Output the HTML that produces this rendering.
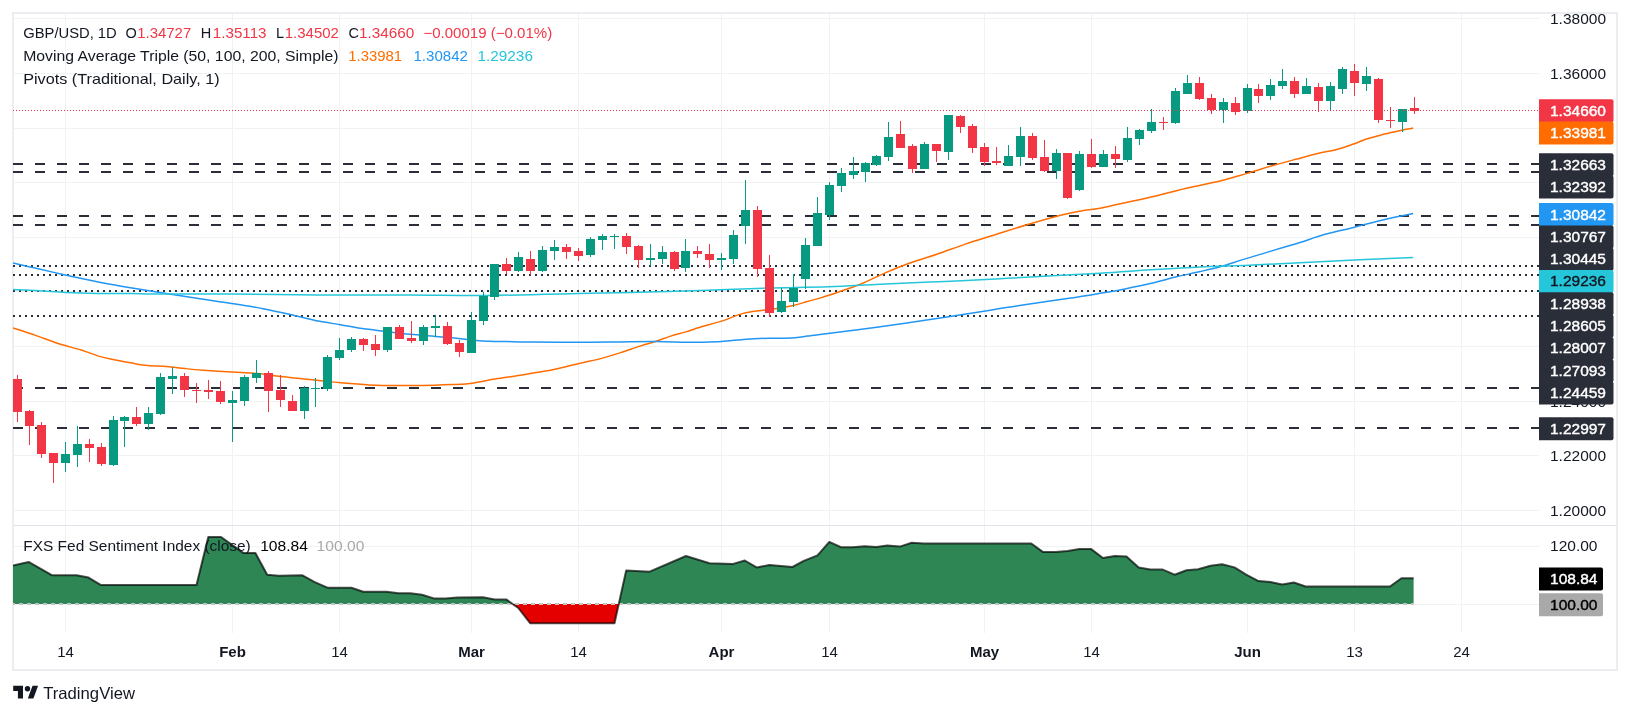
<!DOCTYPE html>
<html><head><meta charset="utf-8"><style>
html,body{margin:0;padding:0;background:#fff;}
body{width:1630px;height:716px;overflow:hidden;position:relative;font-family:"Liberation Sans", sans-serif;}
svg{position:absolute;left:0;top:0;will-change:transform;}
</style></head><body>
<svg width="1630" height="716" viewBox="0 0 1630 716" font-family='"Liberation Sans", sans-serif'>
<defs>
<clipPath id="mainclip"><rect x="13" y="14" width="1526" height="511"/></clipPath>
<clipPath id="indclip"><rect x="13" y="526" width="1526" height="107"/></clipPath>
</defs>
<rect x="0" y="0" width="1630" height="716" fill="#FFFFFF"/>
<!-- frame -->
<g shape-rendering="crispEdges">
<rect x="12" y="12" width="1606" height="2" fill="#EBEDF1"/>
<rect x="12" y="669" width="1606" height="2" fill="#EBEDF1"/>
<rect x="12" y="12" width="2" height="659" fill="#EBEDF1"/>
<rect x="1616" y="12" width="2" height="659" fill="#EBEDF1"/>
<rect x="14" y="525" width="1602" height="1" fill="#E0E3EB"/>
</g>
<g clip-path="url(#mainclip)">
<g shape-rendering="crispEdges">
<rect x="14" y="18" width="1525" height="1" fill="#F0F3F2"/>
<rect x="14" y="73" width="1525" height="1" fill="#F0F3F2"/>
<rect x="14" y="128" width="1525" height="1" fill="#F0F3F2"/>
<rect x="14" y="182" width="1525" height="1" fill="#F0F3F2"/>
<rect x="14" y="237" width="1525" height="1" fill="#F0F3F2"/>
<rect x="14" y="291" width="1525" height="1" fill="#F0F3F2"/>
<rect x="14" y="346" width="1525" height="1" fill="#F0F3F2"/>
<rect x="14" y="401" width="1525" height="1" fill="#F0F3F2"/>
<rect x="14" y="455" width="1525" height="1" fill="#F0F3F2"/>
<rect x="14" y="510" width="1525" height="1" fill="#F0F3F2"/>
<rect x="65" y="14" width="1" height="511" fill="#F0F3F2"/>
<rect x="232" y="14" width="1" height="511" fill="#F0F3F2"/>
<rect x="339" y="14" width="1" height="511" fill="#F0F3F2"/>
<rect x="471" y="14" width="1" height="511" fill="#F0F3F2"/>
<rect x="578" y="14" width="1" height="511" fill="#F0F3F2"/>
<rect x="721" y="14" width="1" height="511" fill="#F0F3F2"/>
<rect x="829" y="14" width="1" height="511" fill="#F0F3F2"/>
<rect x="984" y="14" width="1" height="511" fill="#F0F3F2"/>
<rect x="1091" y="14" width="1" height="511" fill="#F0F3F2"/>
<rect x="1247" y="14" width="1" height="511" fill="#F0F3F2"/>
<rect x="1354" y="14" width="1" height="511" fill="#F0F3F2"/>
<rect x="1461" y="14" width="1" height="511" fill="#F0F3F2"/>
</g>
<g shape-rendering="crispEdges">
<line x1="13" y1="164" x2="1539" y2="164" stroke="#2A2E39" stroke-width="2" stroke-dasharray="10 12"/>
<line x1="13" y1="172" x2="1539" y2="172" stroke="#2A2E39" stroke-width="2" stroke-dasharray="10 12"/>
<line x1="13" y1="216" x2="1539" y2="216" stroke="#2A2E39" stroke-width="2" stroke-dasharray="10 12"/>
<line x1="13" y1="225" x2="1539" y2="225" stroke="#2A2E39" stroke-width="2" stroke-dasharray="10 12"/>
<line x1="13" y1="388" x2="1539" y2="388" stroke="#2A2E39" stroke-width="2" stroke-dasharray="10 12"/>
<line x1="13" y1="428" x2="1539" y2="428" stroke="#2A2E39" stroke-width="2" stroke-dasharray="10 12"/>
<line x1="13" y1="266" x2="1539" y2="266" stroke="#2A2E39" stroke-width="2" stroke-dasharray="2 4"/>
<line x1="13" y1="275" x2="1539" y2="275" stroke="#2A2E39" stroke-width="2" stroke-dasharray="2 4"/>
<line x1="13" y1="291" x2="1539" y2="291" stroke="#2A2E39" stroke-width="2" stroke-dasharray="2 4"/>
<line x1="13" y1="316" x2="1539" y2="316" stroke="#2A2E39" stroke-width="2" stroke-dasharray="2 4"/>
</g>
<path d="M13.00,327.90 C16.67,329.10 27.48,332.50 35.00,335.10 C42.52,337.70 50.42,341.02 58.10,343.50 C65.78,345.98 74.07,347.82 81.10,350.00 C88.13,352.18 94.53,354.93 100.30,356.60 C106.07,358.27 110.42,358.92 115.70,360.00 C120.98,361.08 126.67,362.18 132.00,363.10 C137.33,364.02 141.90,364.95 147.70,365.50 C153.50,366.05 160.55,365.88 166.80,366.40 C173.05,366.92 179.07,367.95 185.20,368.60 C191.33,369.25 195.73,369.72 203.60,370.30 C211.47,370.88 224.67,371.65 232.40,372.10 C240.13,372.55 245.22,372.72 250.00,373.00 C254.78,373.28 255.92,373.20 261.10,373.80 C266.28,374.40 273.93,375.75 281.10,376.60 C288.27,377.45 296.42,378.08 304.10,378.90 C311.78,379.72 321.07,380.85 327.20,381.50 C333.33,382.15 333.97,382.23 340.90,382.80 C347.83,383.37 361.45,384.47 368.80,384.90 C376.15,385.33 376.15,385.30 385.00,385.40 C393.85,385.50 410.12,385.67 421.90,385.50 C433.68,385.33 447.68,384.72 455.70,384.40 C463.72,384.08 463.43,384.50 470.00,383.60 C476.57,382.70 486.72,380.38 495.10,379.00 C503.48,377.62 511.92,376.62 520.30,375.30 C528.68,373.98 537.02,372.72 545.40,371.10 C553.78,369.48 563.17,367.27 570.60,365.60 C578.03,363.93 584.85,362.30 590.00,361.10 C595.15,359.90 596.38,359.82 601.50,358.40 C606.62,356.98 614.30,354.65 620.70,352.60 C627.10,350.55 634.13,347.95 639.90,346.10 C645.67,344.25 650.18,343.17 655.30,341.50 C660.42,339.83 665.48,337.70 670.60,336.10 C675.72,334.50 681.10,333.38 686.00,331.90 C690.90,330.42 694.08,329.00 700.00,327.20 C705.92,325.40 714.33,323.40 721.50,321.10 C728.67,318.80 736.35,315.18 743.00,313.40 C749.65,311.62 755.77,311.23 761.40,310.40 C767.03,309.57 771.67,309.18 776.80,308.40 C781.93,307.62 787.08,306.85 792.20,305.70 C797.32,304.55 802.87,302.77 807.50,301.50 C812.13,300.23 816.18,299.22 820.00,298.10 C823.82,296.98 826.87,295.98 830.40,294.80 C833.93,293.62 837.30,292.35 841.20,291.00 C845.10,289.65 850.30,287.95 853.80,286.70 C857.30,285.45 858.70,285.02 862.20,283.50 C865.70,281.98 870.17,279.70 874.80,277.60 C879.43,275.50 884.82,273.08 890.00,270.90 C895.18,268.72 898.10,267.28 905.90,264.50 C913.70,261.72 926.78,257.63 936.80,254.20 C946.82,250.77 956.83,246.97 966.00,243.90 C975.17,240.83 981.77,238.95 991.80,235.80 C1001.83,232.65 1014.75,228.43 1026.20,225.00 C1037.65,221.57 1051.35,217.55 1060.50,215.20 C1069.65,212.85 1074.52,212.07 1081.10,210.90 C1087.68,209.73 1091.93,209.72 1100.00,208.20 C1108.07,206.68 1119.68,203.97 1129.50,201.80 C1139.32,199.63 1149.08,197.53 1158.90,195.20 C1168.72,192.87 1178.22,190.15 1188.40,187.80 C1198.58,185.45 1210.25,183.50 1220.00,181.10 C1229.75,178.70 1237.93,176.03 1246.90,173.40 C1255.87,170.77 1265.48,167.70 1273.80,165.30 C1282.12,162.90 1289.13,161.05 1296.80,159.00 C1304.47,156.95 1313.43,154.50 1319.80,153.00 C1326.17,151.50 1329.25,151.55 1335.00,150.00 C1340.75,148.45 1349.08,145.53 1354.30,143.70 C1359.52,141.87 1362.13,140.38 1366.30,139.00 C1370.47,137.62 1374.97,136.52 1379.30,135.40 C1383.63,134.28 1388.38,133.22 1392.30,132.30 C1396.22,131.38 1399.32,130.60 1402.80,129.90 C1406.28,129.20 1411.47,128.40 1413.20,128.10" fill="none" stroke="#FF6D00" stroke-width="1.5"/>
<path d="M13.00,263.10 C16.67,263.93 26.85,266.25 35.00,268.10 C43.15,269.95 52.93,272.22 61.90,274.20 C70.87,276.18 80.48,278.27 88.80,280.00 C97.12,281.73 104.60,283.27 111.80,284.60 C119.00,285.93 124.53,286.78 132.00,288.00 C139.47,289.22 145.52,290.13 156.60,291.90 C167.68,293.67 186.27,296.72 198.50,298.60 C210.73,300.48 219.23,301.52 230.00,303.20 C240.77,304.88 252.05,306.58 263.10,308.70 C274.15,310.82 287.10,313.83 296.30,315.90 C305.50,317.97 310.95,319.63 318.30,321.10 C325.65,322.57 333.03,323.45 340.40,324.70 C347.77,325.95 355.13,327.50 362.50,328.60 C369.87,329.70 376.68,330.35 384.60,331.30 C392.52,332.25 400.48,333.37 410.00,334.30 C419.52,335.23 431.38,335.97 441.70,336.90 C452.02,337.83 465.15,339.23 471.90,339.90 C478.65,340.57 476.30,340.62 482.20,340.90 C488.10,341.18 499.43,341.40 507.30,341.60 C515.17,341.80 515.62,342.00 529.40,342.10 C543.18,342.20 574.98,342.23 590.00,342.20 C605.02,342.17 608.45,342.00 619.50,341.90 C630.55,341.80 645.27,341.53 656.30,341.60 C667.33,341.67 678.42,342.20 685.70,342.30 C692.98,342.40 694.03,342.33 700.00,342.20 C705.97,342.07 713.82,342.00 721.50,341.50 C729.18,341.00 738.17,339.75 746.10,339.20 C754.03,338.65 761.42,338.40 769.10,338.20 C776.78,338.00 785.80,338.35 792.20,338.00 C798.60,337.65 802.87,336.70 807.50,336.10 C812.13,335.50 808.47,335.88 820.00,334.40 C831.53,332.92 857.23,329.83 876.70,327.20 C896.17,324.57 917.62,321.48 936.80,318.60 C955.98,315.72 976.90,312.27 991.80,309.90 C1006.70,307.53 1013.32,306.33 1026.20,304.40 C1039.08,302.47 1056.80,300.15 1069.10,298.30 C1081.40,296.45 1090.67,294.87 1100.00,293.30 C1109.33,291.73 1116.72,290.52 1125.10,288.90 C1133.48,287.28 1141.92,285.58 1150.30,283.60 C1158.68,281.62 1167.12,279.00 1175.40,277.00 C1183.68,275.00 1192.42,273.35 1200.00,271.60 C1207.58,269.85 1213.92,268.45 1220.90,266.50 C1227.88,264.55 1234.92,262.05 1241.90,259.90 C1248.88,257.75 1255.82,255.70 1262.80,253.60 C1269.78,251.50 1277.60,249.15 1283.80,247.30 C1290.00,245.45 1293.12,244.67 1300.00,242.50 C1306.88,240.33 1316.02,236.85 1325.10,234.30 C1334.18,231.75 1344.72,229.63 1354.50,227.20 C1364.28,224.77 1374.02,221.97 1383.80,219.70 C1393.58,217.43 1408.30,214.62 1413.20,213.60" fill="none" stroke="#2196F3" stroke-width="1.5"/>
<path d="M13.00,289.60 C17.32,289.78 30.10,290.23 38.90,290.70 C47.70,291.17 56.20,291.95 65.80,292.40 C75.40,292.85 85.47,293.20 96.50,293.40 C107.53,293.60 121.98,293.50 132.00,293.60 C142.02,293.70 140.27,293.93 156.60,294.00 C172.93,294.07 203.05,293.85 230.00,294.00 C256.95,294.15 288.30,294.75 318.30,294.90 C348.30,295.05 381.38,294.82 410.00,294.90 C438.62,294.98 460.00,295.67 490.00,295.40 C520.00,295.13 563.52,293.85 590.00,293.30 C616.48,292.75 629.27,292.60 648.90,292.10 C668.53,291.60 688.17,290.97 707.80,290.30 C727.43,289.63 746.55,288.68 766.70,288.10 C786.85,287.52 809.82,287.45 828.70,286.80 C847.58,286.15 861.67,285.05 880.00,284.20 C898.33,283.35 918.70,282.60 938.70,281.70 C958.70,280.80 985.42,279.55 1000.00,278.80 C1014.58,278.05 1009.53,278.13 1026.20,277.20 C1042.87,276.27 1079.32,274.43 1100.00,273.20 C1120.68,271.97 1133.63,270.85 1150.30,269.80 C1166.97,268.75 1183.57,267.67 1200.00,266.90 C1216.43,266.13 1232.23,265.88 1248.90,265.20 C1265.57,264.52 1282.40,263.68 1300.00,262.80 C1317.60,261.92 1335.63,260.77 1354.50,259.90 C1373.37,259.03 1403.42,257.98 1413.20,257.60" fill="none" stroke="#26C6DA" stroke-width="1.5"/>
<g shape-rendering="crispEdges">
<rect x="17" y="375" width="1" height="47" fill="#F23645"/>
<rect x="13" y="379" width="9" height="33" fill="#F23645"/>
<rect x="29" y="410" width="1" height="35" fill="#F23645"/>
<rect x="25" y="411" width="9" height="15" fill="#F23645"/>
<rect x="41" y="422" width="1" height="36" fill="#F23645"/>
<rect x="37" y="425" width="9" height="29" fill="#F23645"/>
<rect x="53" y="453" width="1" height="30" fill="#F23645"/>
<rect x="49" y="453" width="9" height="10" fill="#F23645"/>
<rect x="65" y="442" width="1" height="30" fill="#089981"/>
<rect x="61" y="454" width="9" height="9" fill="#089981"/>
<rect x="77" y="426" width="1" height="41" fill="#089981"/>
<rect x="73" y="444" width="9" height="11" fill="#089981"/>
<rect x="89" y="439" width="1" height="23" fill="#F23645"/>
<rect x="85" y="444" width="9" height="4" fill="#F23645"/>
<rect x="101" y="443" width="1" height="23" fill="#F23645"/>
<rect x="97" y="447" width="9" height="17" fill="#F23645"/>
<rect x="113" y="416" width="1" height="50" fill="#089981"/>
<rect x="109" y="420" width="9" height="45" fill="#089981"/>
<rect x="124" y="416" width="1" height="31" fill="#089981"/>
<rect x="120" y="417" width="9" height="4" fill="#089981"/>
<rect x="136" y="407" width="1" height="19" fill="#F23645"/>
<rect x="132" y="417" width="9" height="7" fill="#F23645"/>
<rect x="148" y="407" width="1" height="23" fill="#089981"/>
<rect x="144" y="413" width="9" height="11" fill="#089981"/>
<rect x="160" y="373" width="1" height="42" fill="#089981"/>
<rect x="156" y="377" width="9" height="37" fill="#089981"/>
<rect x="172" y="367" width="1" height="27" fill="#089981"/>
<rect x="168" y="376" width="9" height="3" fill="#089981"/>
<rect x="184" y="373" width="1" height="24" fill="#F23645"/>
<rect x="180" y="376" width="9" height="14" fill="#F23645"/>
<rect x="196" y="383" width="1" height="20" fill="#F23645"/>
<rect x="192" y="390" width="9" height="1" fill="#F23645"/>
<rect x="208" y="380" width="1" height="19" fill="#F23645"/>
<rect x="204" y="390" width="9" height="2" fill="#F23645"/>
<rect x="220" y="381" width="1" height="23" fill="#F23645"/>
<rect x="216" y="391" width="9" height="11" fill="#F23645"/>
<rect x="232" y="391" width="1" height="51" fill="#089981"/>
<rect x="228" y="400" width="9" height="3" fill="#089981"/>
<rect x="244" y="375" width="1" height="31" fill="#089981"/>
<rect x="240" y="377" width="9" height="24" fill="#089981"/>
<rect x="256" y="360" width="1" height="23" fill="#089981"/>
<rect x="252" y="373" width="9" height="5" fill="#089981"/>
<rect x="268" y="371" width="1" height="41" fill="#F23645"/>
<rect x="264" y="373" width="9" height="18" fill="#F23645"/>
<rect x="280" y="375" width="1" height="32" fill="#F23645"/>
<rect x="276" y="390" width="9" height="10" fill="#F23645"/>
<rect x="292" y="395" width="1" height="16" fill="#F23645"/>
<rect x="288" y="401" width="9" height="10" fill="#F23645"/>
<rect x="304" y="386" width="1" height="33" fill="#089981"/>
<rect x="300" y="388" width="9" height="23" fill="#089981"/>
<rect x="315" y="378" width="1" height="29" fill="#089981"/>
<rect x="311" y="388" width="9" height="1" fill="#089981"/>
<rect x="327" y="355" width="1" height="36" fill="#089981"/>
<rect x="323" y="357" width="9" height="32" fill="#089981"/>
<rect x="339" y="338" width="1" height="22" fill="#089981"/>
<rect x="335" y="350" width="9" height="8" fill="#089981"/>
<rect x="351" y="337" width="1" height="15" fill="#089981"/>
<rect x="347" y="339" width="9" height="11" fill="#089981"/>
<rect x="363" y="338" width="1" height="13" fill="#F23645"/>
<rect x="359" y="339" width="9" height="6" fill="#F23645"/>
<rect x="375" y="335" width="1" height="21" fill="#F23645"/>
<rect x="371" y="344" width="9" height="6" fill="#F23645"/>
<rect x="387" y="327" width="1" height="25" fill="#089981"/>
<rect x="383" y="327" width="9" height="23" fill="#089981"/>
<rect x="399" y="325" width="1" height="14" fill="#F23645"/>
<rect x="395" y="327" width="9" height="12" fill="#F23645"/>
<rect x="411" y="321" width="1" height="22" fill="#F23645"/>
<rect x="407" y="338" width="9" height="3" fill="#F23645"/>
<rect x="423" y="325" width="1" height="20" fill="#089981"/>
<rect x="419" y="327" width="9" height="14" fill="#089981"/>
<rect x="435" y="315" width="1" height="22" fill="#089981"/>
<rect x="431" y="326" width="9" height="2" fill="#089981"/>
<rect x="447" y="322" width="1" height="23" fill="#F23645"/>
<rect x="443" y="326" width="9" height="18" fill="#F23645"/>
<rect x="459" y="340" width="1" height="17" fill="#F23645"/>
<rect x="455" y="343" width="9" height="9" fill="#F23645"/>
<rect x="471" y="312" width="1" height="41" fill="#089981"/>
<rect x="467" y="320" width="9" height="33" fill="#089981"/>
<rect x="483" y="292" width="1" height="33" fill="#089981"/>
<rect x="479" y="296" width="9" height="25" fill="#089981"/>
<rect x="494" y="264" width="1" height="36" fill="#089981"/>
<rect x="490" y="264" width="9" height="33" fill="#089981"/>
<rect x="506" y="258" width="1" height="16" fill="#F23645"/>
<rect x="502" y="264" width="9" height="7" fill="#F23645"/>
<rect x="518" y="252" width="1" height="20" fill="#089981"/>
<rect x="514" y="257" width="9" height="14" fill="#089981"/>
<rect x="530" y="251" width="1" height="24" fill="#F23645"/>
<rect x="526" y="259" width="9" height="12" fill="#F23645"/>
<rect x="542" y="246" width="1" height="26" fill="#089981"/>
<rect x="538" y="250" width="9" height="21" fill="#089981"/>
<rect x="554" y="240" width="1" height="20" fill="#089981"/>
<rect x="550" y="247" width="9" height="4" fill="#089981"/>
<rect x="566" y="244" width="1" height="15" fill="#F23645"/>
<rect x="562" y="247" width="9" height="5" fill="#F23645"/>
<rect x="578" y="248" width="1" height="13" fill="#F23645"/>
<rect x="574" y="251" width="9" height="5" fill="#F23645"/>
<rect x="590" y="237" width="1" height="20" fill="#089981"/>
<rect x="586" y="239" width="9" height="16" fill="#089981"/>
<rect x="602" y="234" width="1" height="16" fill="#089981"/>
<rect x="598" y="236" width="9" height="4" fill="#089981"/>
<rect x="614" y="234" width="1" height="15" fill="#089981"/>
<rect x="610" y="236" width="9" height="1" fill="#089981"/>
<rect x="626" y="233" width="1" height="21" fill="#F23645"/>
<rect x="622" y="236" width="9" height="11" fill="#F23645"/>
<rect x="638" y="245" width="1" height="23" fill="#F23645"/>
<rect x="634" y="246" width="9" height="14" fill="#F23645"/>
<rect x="650" y="244" width="1" height="22" fill="#089981"/>
<rect x="646" y="258" width="9" height="2" fill="#089981"/>
<rect x="662" y="246" width="1" height="18" fill="#089981"/>
<rect x="658" y="252" width="9" height="7" fill="#089981"/>
<rect x="674" y="251" width="1" height="20" fill="#F23645"/>
<rect x="670" y="252" width="9" height="17" fill="#F23645"/>
<rect x="685" y="239" width="1" height="33" fill="#089981"/>
<rect x="681" y="251" width="9" height="17" fill="#089981"/>
<rect x="697" y="246" width="1" height="12" fill="#F23645"/>
<rect x="693" y="251" width="9" height="3" fill="#F23645"/>
<rect x="709" y="244" width="1" height="24" fill="#F23645"/>
<rect x="705" y="254" width="9" height="6" fill="#F23645"/>
<rect x="721" y="253" width="1" height="17" fill="#089981"/>
<rect x="717" y="258" width="9" height="2" fill="#089981"/>
<rect x="733" y="230" width="1" height="34" fill="#089981"/>
<rect x="729" y="235" width="9" height="24" fill="#089981"/>
<rect x="745" y="180" width="1" height="64" fill="#089981"/>
<rect x="741" y="210" width="9" height="16" fill="#089981"/>
<rect x="757" y="206" width="1" height="71" fill="#F23645"/>
<rect x="753" y="210" width="9" height="59" fill="#F23645"/>
<rect x="769" y="255" width="1" height="62" fill="#F23645"/>
<rect x="765" y="268" width="9" height="45" fill="#F23645"/>
<rect x="781" y="288" width="1" height="25" fill="#089981"/>
<rect x="777" y="301" width="9" height="11" fill="#089981"/>
<rect x="793" y="274" width="1" height="33" fill="#089981"/>
<rect x="789" y="288" width="9" height="14" fill="#089981"/>
<rect x="805" y="238" width="1" height="51" fill="#089981"/>
<rect x="801" y="245" width="9" height="34" fill="#089981"/>
<rect x="817" y="197" width="1" height="49" fill="#089981"/>
<rect x="813" y="213" width="9" height="33" fill="#089981"/>
<rect x="829" y="182" width="1" height="38" fill="#089981"/>
<rect x="825" y="185" width="9" height="30" fill="#089981"/>
<rect x="841" y="168" width="1" height="24" fill="#089981"/>
<rect x="837" y="173" width="9" height="13" fill="#089981"/>
<rect x="853" y="157" width="1" height="22" fill="#089981"/>
<rect x="849" y="171" width="9" height="4" fill="#089981"/>
<rect x="865" y="162" width="1" height="20" fill="#089981"/>
<rect x="861" y="163" width="9" height="9" fill="#089981"/>
<rect x="876" y="155" width="1" height="11" fill="#089981"/>
<rect x="872" y="156" width="9" height="9" fill="#089981"/>
<rect x="888" y="122" width="1" height="39" fill="#089981"/>
<rect x="884" y="137" width="9" height="20" fill="#089981"/>
<rect x="900" y="121" width="1" height="27" fill="#F23645"/>
<rect x="896" y="134" width="9" height="14" fill="#F23645"/>
<rect x="912" y="144" width="1" height="29" fill="#F23645"/>
<rect x="908" y="146" width="9" height="23" fill="#F23645"/>
<rect x="924" y="142" width="1" height="27" fill="#089981"/>
<rect x="920" y="144" width="9" height="25" fill="#089981"/>
<rect x="936" y="144" width="1" height="18" fill="#F23645"/>
<rect x="932" y="144" width="9" height="7" fill="#F23645"/>
<rect x="948" y="115" width="1" height="45" fill="#089981"/>
<rect x="944" y="115" width="9" height="37" fill="#089981"/>
<rect x="960" y="115" width="1" height="18" fill="#F23645"/>
<rect x="956" y="116" width="9" height="11" fill="#F23645"/>
<rect x="972" y="124" width="1" height="29" fill="#F23645"/>
<rect x="968" y="126" width="9" height="22" fill="#F23645"/>
<rect x="984" y="143" width="1" height="23" fill="#F23645"/>
<rect x="980" y="147" width="9" height="15" fill="#F23645"/>
<rect x="996" y="147" width="1" height="18" fill="#F23645"/>
<rect x="992" y="161" width="9" height="2" fill="#F23645"/>
<rect x="1008" y="145" width="1" height="21" fill="#089981"/>
<rect x="1004" y="156" width="9" height="10" fill="#089981"/>
<rect x="1020" y="127" width="1" height="39" fill="#089981"/>
<rect x="1016" y="136" width="9" height="21" fill="#089981"/>
<rect x="1032" y="133" width="1" height="27" fill="#F23645"/>
<rect x="1028" y="136" width="9" height="22" fill="#F23645"/>
<rect x="1044" y="140" width="1" height="32" fill="#F23645"/>
<rect x="1040" y="157" width="9" height="14" fill="#F23645"/>
<rect x="1056" y="149" width="1" height="30" fill="#089981"/>
<rect x="1052" y="153" width="9" height="18" fill="#089981"/>
<rect x="1067" y="153" width="1" height="46" fill="#F23645"/>
<rect x="1063" y="153" width="9" height="45" fill="#F23645"/>
<rect x="1079" y="151" width="1" height="40" fill="#089981"/>
<rect x="1075" y="154" width="9" height="36" fill="#089981"/>
<rect x="1091" y="139" width="1" height="29" fill="#F23645"/>
<rect x="1087" y="154" width="9" height="13" fill="#F23645"/>
<rect x="1103" y="150" width="1" height="17" fill="#089981"/>
<rect x="1099" y="154" width="9" height="13" fill="#089981"/>
<rect x="1115" y="146" width="1" height="22" fill="#F23645"/>
<rect x="1111" y="154" width="9" height="5" fill="#F23645"/>
<rect x="1127" y="127" width="1" height="35" fill="#089981"/>
<rect x="1123" y="138" width="9" height="22" fill="#089981"/>
<rect x="1139" y="129" width="1" height="16" fill="#089981"/>
<rect x="1135" y="130" width="9" height="9" fill="#089981"/>
<rect x="1151" y="109" width="1" height="24" fill="#089981"/>
<rect x="1147" y="122" width="9" height="9" fill="#089981"/>
<rect x="1163" y="117" width="1" height="13" fill="#F23645"/>
<rect x="1159" y="122" width="9" height="1" fill="#F23645"/>
<rect x="1175" y="88" width="1" height="36" fill="#089981"/>
<rect x="1171" y="91" width="9" height="32" fill="#089981"/>
<rect x="1187" y="75" width="1" height="19" fill="#089981"/>
<rect x="1183" y="83" width="9" height="11" fill="#089981"/>
<rect x="1199" y="77" width="1" height="23" fill="#F23645"/>
<rect x="1195" y="83" width="9" height="16" fill="#F23645"/>
<rect x="1211" y="94" width="1" height="20" fill="#F23645"/>
<rect x="1207" y="98" width="9" height="12" fill="#F23645"/>
<rect x="1223" y="98" width="1" height="25" fill="#089981"/>
<rect x="1219" y="102" width="9" height="8" fill="#089981"/>
<rect x="1235" y="97" width="1" height="18" fill="#F23645"/>
<rect x="1231" y="103" width="9" height="9" fill="#F23645"/>
<rect x="1247" y="84" width="1" height="29" fill="#089981"/>
<rect x="1243" y="88" width="9" height="23" fill="#089981"/>
<rect x="1258" y="84" width="1" height="19" fill="#F23645"/>
<rect x="1254" y="89" width="9" height="7" fill="#F23645"/>
<rect x="1270" y="79" width="1" height="21" fill="#089981"/>
<rect x="1266" y="85" width="9" height="11" fill="#089981"/>
<rect x="1282" y="69" width="1" height="20" fill="#089981"/>
<rect x="1278" y="81" width="9" height="5" fill="#089981"/>
<rect x="1294" y="77" width="1" height="21" fill="#F23645"/>
<rect x="1290" y="81" width="9" height="13" fill="#F23645"/>
<rect x="1306" y="78" width="1" height="16" fill="#089981"/>
<rect x="1302" y="86" width="9" height="8" fill="#089981"/>
<rect x="1318" y="83" width="1" height="29" fill="#F23645"/>
<rect x="1314" y="87" width="9" height="14" fill="#F23645"/>
<rect x="1330" y="82" width="1" height="29" fill="#089981"/>
<rect x="1326" y="86" width="9" height="15" fill="#089981"/>
<rect x="1342" y="67" width="1" height="27" fill="#089981"/>
<rect x="1338" y="69" width="9" height="20" fill="#089981"/>
<rect x="1354" y="64" width="1" height="32" fill="#F23645"/>
<rect x="1350" y="71" width="9" height="12" fill="#F23645"/>
<rect x="1366" y="67" width="1" height="24" fill="#089981"/>
<rect x="1362" y="76" width="9" height="8" fill="#089981"/>
<rect x="1378" y="78" width="1" height="45" fill="#F23645"/>
<rect x="1374" y="79" width="9" height="41" fill="#F23645"/>
<rect x="1390" y="107" width="1" height="21" fill="#F23645"/>
<rect x="1386" y="120" width="9" height="1" fill="#F23645"/>
<rect x="1402" y="109" width="1" height="23" fill="#089981"/>
<rect x="1398" y="109" width="9" height="13" fill="#089981"/>
<rect x="1414" y="97" width="1" height="17" fill="#F23645"/>
<rect x="1410" y="108" width="9" height="3" fill="#F23645"/>
</g>
<line x1="13" y1="110.5" x2="1539" y2="110.5" stroke="#F23645" stroke-width="1" stroke-dasharray="1 2" shape-rendering="crispEdges"/>
</g>
<g clip-path="url(#indclip)">
<g shape-rendering="crispEdges">
<rect x="65" y="526" width="1" height="107" fill="#F0F3F2"/>
<rect x="232" y="526" width="1" height="107" fill="#F0F3F2"/>
<rect x="339" y="526" width="1" height="107" fill="#F0F3F2"/>
<rect x="471" y="526" width="1" height="107" fill="#F0F3F2"/>
<rect x="578" y="526" width="1" height="107" fill="#F0F3F2"/>
<rect x="721" y="526" width="1" height="107" fill="#F0F3F2"/>
<rect x="829" y="526" width="1" height="107" fill="#F0F3F2"/>
<rect x="984" y="526" width="1" height="107" fill="#F0F3F2"/>
<rect x="1091" y="526" width="1" height="107" fill="#F0F3F2"/>
<rect x="1247" y="526" width="1" height="107" fill="#F0F3F2"/>
<rect x="1354" y="526" width="1" height="107" fill="#F0F3F2"/>
<rect x="1461" y="526" width="1" height="107" fill="#F0F3F2"/>
<rect x="14" y="546" width="1525" height="1" fill="#F0F3F2"/>
<rect x="14" y="604" width="1525" height="1" fill="#F0F3F2"/>
</g>
<defs><clipPath id="cu"><rect x="0" y="0" width="1630" height="604"/></clipPath><clipPath id="cd"><rect x="0" y="604" width="1630" height="100"/></clipPath></defs>
<polygon points="13.0,565.4 28.6,561.9 52.2,575.3 76.7,575.3 88.5,577.6 100.7,584.9 196.5,584.9 208.3,537.0 221.0,537.0 243.6,553.1 255.4,553.1 267.2,574.7 279.0,575.7 302.5,575.3 314.3,581.9 327.9,587.8 351.4,587.8 363.2,591.7 386.7,591.7 398.5,593.3 410.3,593.3 422.1,594.7 433.9,598.4 445.6,598.4 457.4,597.6 482.9,597.2 494.7,599.6 506.5,599.6 518.3,608.0 530.1,623.2 614.5,623.2 626.2,570.4 649.6,571.7 686.0,556.0 709.5,563.3 733.1,563.9 744.8,560.5 756.6,567.4 769.4,565.1 792.5,567.0 803.7,560.9 817.5,555.4 829.3,541.9 841.0,547.2 852.8,547.2 864.6,546.2 876.4,547.0 887.2,545.4 899.9,546.6 911.7,542.7 923.5,543.5 1031.3,543.5 1043.1,552.1 1055.8,552.1 1067.6,550.9 1079.4,549.1 1091.2,549.1 1102.9,558.0 1114.7,556.0 1126.5,556.4 1138.7,567.4 1150.4,569.4 1162.2,569.4 1174.6,574.7 1186.4,570.2 1198.1,569.2 1210.5,565.8 1222.1,564.3 1234.5,567.4 1246.2,574.7 1258.5,581.1 1270.3,581.9 1282.1,584.5 1293.9,582.5 1305.6,586.5 1390.0,586.5 1401.4,578.2 1413.6,578.2 1413.6,604 13.0,604" fill="#2D8654" clip-path="url(#cu)"/>
<polygon points="13.0,565.4 28.6,561.9 52.2,575.3 76.7,575.3 88.5,577.6 100.7,584.9 196.5,584.9 208.3,537.0 221.0,537.0 243.6,553.1 255.4,553.1 267.2,574.7 279.0,575.7 302.5,575.3 314.3,581.9 327.9,587.8 351.4,587.8 363.2,591.7 386.7,591.7 398.5,593.3 410.3,593.3 422.1,594.7 433.9,598.4 445.6,598.4 457.4,597.6 482.9,597.2 494.7,599.6 506.5,599.6 518.3,608.0 530.1,623.2 614.5,623.2 626.2,570.4 649.6,571.7 686.0,556.0 709.5,563.3 733.1,563.9 744.8,560.5 756.6,567.4 769.4,565.1 792.5,567.0 803.7,560.9 817.5,555.4 829.3,541.9 841.0,547.2 852.8,547.2 864.6,546.2 876.4,547.0 887.2,545.4 899.9,546.6 911.7,542.7 923.5,543.5 1031.3,543.5 1043.1,552.1 1055.8,552.1 1067.6,550.9 1079.4,549.1 1091.2,549.1 1102.9,558.0 1114.7,556.0 1126.5,556.4 1138.7,567.4 1150.4,569.4 1162.2,569.4 1174.6,574.7 1186.4,570.2 1198.1,569.2 1210.5,565.8 1222.1,564.3 1234.5,567.4 1246.2,574.7 1258.5,581.1 1270.3,581.9 1282.1,584.5 1293.9,582.5 1305.6,586.5 1390.0,586.5 1401.4,578.2 1413.6,578.2 1413.6,604 13.0,604" fill="#E50000" clip-path="url(#cd)"/>
<line x1="11" y1="604" x2="1413.6" y2="604" stroke="#C4C4C4" stroke-width="2" stroke-dasharray="4 4" shape-rendering="crispEdges"/>
<polyline points="13.0,565.4 28.6,561.9 52.2,575.3 76.7,575.3 88.5,577.6 100.7,584.9 196.5,584.9 208.3,537.0 221.0,537.0 243.6,553.1 255.4,553.1 267.2,574.7 279.0,575.7 302.5,575.3 314.3,581.9 327.9,587.8 351.4,587.8 363.2,591.7 386.7,591.7 398.5,593.3 410.3,593.3 422.1,594.7 433.9,598.4 445.6,598.4 457.4,597.6 482.9,597.2 494.7,599.6 506.5,599.6 518.3,608.0 530.1,623.2 614.5,623.2 626.2,570.4 649.6,571.7 686.0,556.0 709.5,563.3 733.1,563.9 744.8,560.5 756.6,567.4 769.4,565.1 792.5,567.0 803.7,560.9 817.5,555.4 829.3,541.9 841.0,547.2 852.8,547.2 864.6,546.2 876.4,547.0 887.2,545.4 899.9,546.6 911.7,542.7 923.5,543.5 1031.3,543.5 1043.1,552.1 1055.8,552.1 1067.6,550.9 1079.4,549.1 1091.2,549.1 1102.9,558.0 1114.7,556.0 1126.5,556.4 1138.7,567.4 1150.4,569.4 1162.2,569.4 1174.6,574.7 1186.4,570.2 1198.1,569.2 1210.5,565.8 1222.1,564.3 1234.5,567.4 1246.2,574.7 1258.5,581.1 1270.3,581.9 1282.1,584.5 1293.9,582.5 1305.6,586.5 1390.0,586.5 1401.4,578.2 1413.6,578.2" fill="none" stroke="rgba(0,0,0,0.68)" stroke-width="2" stroke-linejoin="round"/>
</g>
<!-- legends -->
<text x="23.20" y="37.5" font-size="14.5" font-weight="400" fill="#131722" textLength="93.56" lengthAdjust="spacingAndGlyphs">GBP/USD, 1D</text>
<text x="125.40" y="37.5" font-size="14.5" font-weight="400" fill="#131722">O</text>
<text x="137.30" y="37.5" font-size="14.5" font-weight="400" fill="#F23645" textLength="53.92" lengthAdjust="spacingAndGlyphs">1.34727</text>
<text x="200.80" y="37.5" font-size="14.5" font-weight="400" fill="#131722">H</text>
<text x="212.80" y="37.5" font-size="14.5" font-weight="400" fill="#F23645" textLength="53.74" lengthAdjust="spacingAndGlyphs">1.35113</text>
<text x="276.10" y="37.5" font-size="14.5" font-weight="400" fill="#131722">L</text>
<text x="284.70" y="37.5" font-size="14.5" font-weight="400" fill="#F23645" textLength="54.22" lengthAdjust="spacingAndGlyphs">1.34502</text>
<text x="348.50" y="37.5" font-size="14.5" font-weight="400" fill="#131722">C</text>
<text x="358.90" y="37.5" font-size="14.5" font-weight="400" fill="#F23645" textLength="55.32" lengthAdjust="spacingAndGlyphs">1.34660</text>
<text x="423.40" y="37.5" font-size="14.5" font-weight="400" fill="#F23645" textLength="128.86" lengthAdjust="spacingAndGlyphs">−0.00019 (−0.01%)</text>
<text x="23.20" y="60.5" font-size="14.5" font-weight="400" fill="#131722" textLength="315.31" lengthAdjust="spacingAndGlyphs">Moving Average Triple (50, 100, 200, Simple)</text>
<text x="348.20" y="60.5" font-size="14.5" font-weight="400" fill="#FF6D00" textLength="53.92" lengthAdjust="spacingAndGlyphs">1.33981</text>
<text x="413.50" y="60.5" font-size="14.5" font-weight="400" fill="#2196F3" textLength="54.42" lengthAdjust="spacingAndGlyphs">1.30842</text>
<text x="477.50" y="60.5" font-size="14.5" font-weight="400" fill="#26C6DA" textLength="55.42" lengthAdjust="spacingAndGlyphs">1.29236</text>
<text x="23.20" y="83.5" font-size="14.5" font-weight="400" fill="#131722" textLength="196.47" lengthAdjust="spacingAndGlyphs">Pivots (Traditional, Daily, 1)</text>
<text x="23.30" y="551" font-size="14.5" font-weight="400" fill="#131722" textLength="227.48" lengthAdjust="spacingAndGlyphs">FXS Fed Sentiment Index (close)</text>
<text x="260.20" y="551" font-size="14.5" font-weight="400" fill="#000000" textLength="47.76" lengthAdjust="spacingAndGlyphs">108.84</text>
<text x="316.60" y="551" font-size="14.5" font-weight="400" fill="#A9A9A9" textLength="47.76" lengthAdjust="spacingAndGlyphs">100.00</text>
<text x="43.20" y="698.6" font-size="16.5" font-weight="400" fill="#131722" textLength="91.81" lengthAdjust="spacingAndGlyphs">TradingView</text>
<g font-size="16">
<text x="1606" y="23.90" font-size="15.5" fill="#131722" text-anchor="end" textLength="56.0" lengthAdjust="spacingAndGlyphs">1.38000</text>
<text x="1606" y="78.90" font-size="15.5" fill="#131722" text-anchor="end" textLength="56.0" lengthAdjust="spacingAndGlyphs">1.36000</text>
<text x="1606" y="406.90" font-size="15.5" fill="#131722" text-anchor="end" textLength="56.0" lengthAdjust="spacingAndGlyphs">1.24000</text>
<text x="1606" y="460.90" font-size="15.5" fill="#131722" text-anchor="end" textLength="56.0" lengthAdjust="spacingAndGlyphs">1.22000</text>
<text x="1606" y="515.90" font-size="15.5" fill="#131722" text-anchor="end" textLength="56.0" lengthAdjust="spacingAndGlyphs">1.20000</text>
<path d="M1539 99.20 H1611.5 a2 2 0 0 1 2 2 V120.20 a2 2 0 0 1 -2 2 H1539 Z" fill="#F23645"/><text x="1606" y="115.65" font-size="15" fill="#FFFFFF" stroke="#FFFFFF" stroke-width="0.4" text-anchor="end" textLength="56.0" lengthAdjust="spacingAndGlyphs">1.34660</text>
<path d="M1539 121.50 H1611.5 a2 2 0 0 1 2 2 V142.50 a2 2 0 0 1 -2 2 H1539 Z" fill="#FF6D00"/><text x="1606" y="137.95" font-size="15" fill="#FFFFFF" stroke="#FFFFFF" stroke-width="0.4" text-anchor="end" textLength="56.0" lengthAdjust="spacingAndGlyphs">1.33981</text>
<path d="M1539 153.30 H1611.5 a2 2 0 0 1 2 2 V174.30 a2 2 0 0 1 -2 2 H1539 Z" fill="#2A2E39"/><text x="1606" y="169.75" font-size="15" fill="#FFFFFF" stroke="#FFFFFF" stroke-width="0.4" text-anchor="end" textLength="56.0" lengthAdjust="spacingAndGlyphs">1.32663</text>
<path d="M1539 175.60 H1611.5 a2 2 0 0 1 2 2 V196.60 a2 2 0 0 1 -2 2 H1539 Z" fill="#2A2E39"/><text x="1606" y="192.05" font-size="15" fill="#FFFFFF" stroke="#FFFFFF" stroke-width="0.4" text-anchor="end" textLength="56.0" lengthAdjust="spacingAndGlyphs">1.32392</text>
<path d="M1539 203.10 H1611.5 a2 2 0 0 1 2 2 V224.10 a2 2 0 0 1 -2 2 H1539 Z" fill="#2196F3"/><text x="1606" y="219.55" font-size="15" fill="#FFFFFF" stroke="#FFFFFF" stroke-width="0.4" text-anchor="end" textLength="56.0" lengthAdjust="spacingAndGlyphs">1.30842</text>
<path d="M1539 225.40 H1611.5 a2 2 0 0 1 2 2 V246.40 a2 2 0 0 1 -2 2 H1539 Z" fill="#2A2E39"/><text x="1606" y="241.85" font-size="15" fill="#FFFFFF" stroke="#FFFFFF" stroke-width="0.4" text-anchor="end" textLength="56.0" lengthAdjust="spacingAndGlyphs">1.30767</text>
<path d="M1539 247.70 H1611.5 a2 2 0 0 1 2 2 V268.70 a2 2 0 0 1 -2 2 H1539 Z" fill="#2A2E39"/><text x="1606" y="264.15" font-size="15" fill="#FFFFFF" stroke="#FFFFFF" stroke-width="0.4" text-anchor="end" textLength="56.0" lengthAdjust="spacingAndGlyphs">1.30445</text>
<path d="M1539 270.00 H1611.5 a2 2 0 0 1 2 2 V291.00 a2 2 0 0 1 -2 2 H1539 Z" fill="#26C6DA"/><text x="1606" y="286.45" font-size="15" fill="#131722" stroke="#131722" stroke-width="0.4" text-anchor="end" textLength="56.0" lengthAdjust="spacingAndGlyphs">1.29236</text>
<path d="M1539 292.30 H1611.5 a2 2 0 0 1 2 2 V313.30 a2 2 0 0 1 -2 2 H1539 Z" fill="#2A2E39"/><text x="1606" y="308.75" font-size="15" fill="#FFFFFF" stroke="#FFFFFF" stroke-width="0.4" text-anchor="end" textLength="56.0" lengthAdjust="spacingAndGlyphs">1.28938</text>
<path d="M1539 314.60 H1611.5 a2 2 0 0 1 2 2 V335.60 a2 2 0 0 1 -2 2 H1539 Z" fill="#2A2E39"/><text x="1606" y="331.05" font-size="15" fill="#FFFFFF" stroke="#FFFFFF" stroke-width="0.4" text-anchor="end" textLength="56.0" lengthAdjust="spacingAndGlyphs">1.28605</text>
<path d="M1539 336.90 H1611.5 a2 2 0 0 1 2 2 V357.90 a2 2 0 0 1 -2 2 H1539 Z" fill="#2A2E39"/><text x="1606" y="353.35" font-size="15" fill="#FFFFFF" stroke="#FFFFFF" stroke-width="0.4" text-anchor="end" textLength="56.0" lengthAdjust="spacingAndGlyphs">1.28007</text>
<path d="M1539 359.20 H1611.5 a2 2 0 0 1 2 2 V380.20 a2 2 0 0 1 -2 2 H1539 Z" fill="#2A2E39"/><text x="1606" y="375.65" font-size="15" fill="#FFFFFF" stroke="#FFFFFF" stroke-width="0.4" text-anchor="end" textLength="56.0" lengthAdjust="spacingAndGlyphs">1.27093</text>
<path d="M1539 381.50 H1611.5 a2 2 0 0 1 2 2 V402.50 a2 2 0 0 1 -2 2 H1539 Z" fill="#2A2E39"/><text x="1606" y="397.95" font-size="15" fill="#FFFFFF" stroke="#FFFFFF" stroke-width="0.4" text-anchor="end" textLength="56.0" lengthAdjust="spacingAndGlyphs">1.24459</text>
<path d="M1539 417.20 H1611.5 a2 2 0 0 1 2 2 V438.20 a2 2 0 0 1 -2 2 H1539 Z" fill="#2A2E39"/><text x="1606" y="433.65" font-size="15" fill="#FFFFFF" stroke="#FFFFFF" stroke-width="0.4" text-anchor="end" textLength="56.0" lengthAdjust="spacingAndGlyphs">1.22997</text>
<text x="1597.5" y="550.6" font-size="15.5" fill="#131722" text-anchor="end" textLength="47.5" lengthAdjust="spacingAndGlyphs">120.00</text>
<path d="M1539 567.40 H1601 a2 2 0 0 1 2 2 V588.40 a2 2 0 0 1 -2 2 H1539 Z" fill="#000000"/><text x="1597.5" y="583.85" font-size="15" fill="#FFFFFF" stroke="#FFFFFF" stroke-width="0.4" text-anchor="end" textLength="47.5" lengthAdjust="spacingAndGlyphs">108.84</text>
<path d="M1539 593.30 H1601 a2 2 0 0 1 2 2 V614.30 a2 2 0 0 1 -2 2 H1539 Z" fill="#A9A9A9"/><text x="1597.5" y="609.75" font-size="15" fill="#000000" stroke="#000000" stroke-width="0.4" text-anchor="end" textLength="47.5" lengthAdjust="spacingAndGlyphs">100.00</text>
</g>
<g font-size="15">
<text x="65.5" y="657" text-anchor="middle" fill="#131722">14</text>
<text x="232.5" y="657" text-anchor="middle" fill="#131722" font-weight="bold">Feb</text>
<text x="339.5" y="657" text-anchor="middle" fill="#131722">14</text>
<text x="471.5" y="657" text-anchor="middle" fill="#131722" font-weight="bold">Mar</text>
<text x="578.5" y="657" text-anchor="middle" fill="#131722">14</text>
<text x="721.5" y="657" text-anchor="middle" fill="#131722" font-weight="bold">Apr</text>
<text x="829.5" y="657" text-anchor="middle" fill="#131722">14</text>
<text x="984.5" y="657" text-anchor="middle" fill="#131722" font-weight="bold">May</text>
<text x="1091.5" y="657" text-anchor="middle" fill="#131722">14</text>
<text x="1247.5" y="657" text-anchor="middle" fill="#131722" font-weight="bold">Jun</text>
<text x="1354.5" y="657" text-anchor="middle" fill="#131722">13</text>
<text x="1461.5" y="657" text-anchor="middle" fill="#131722">24</text>
</g>
<!-- logo -->
<g fill="#131722">
<path d="M13.2 685.7 H23 V698.6 H17.9 V690.9 H13.2 Z"/>
<circle cx="27.5" cy="688.7" r="2.7"/>
<path d="M32.5 685.7 H38.1 L33.4 698.6 H27.8 Z"/>
</g>
</svg>
</body></html>
